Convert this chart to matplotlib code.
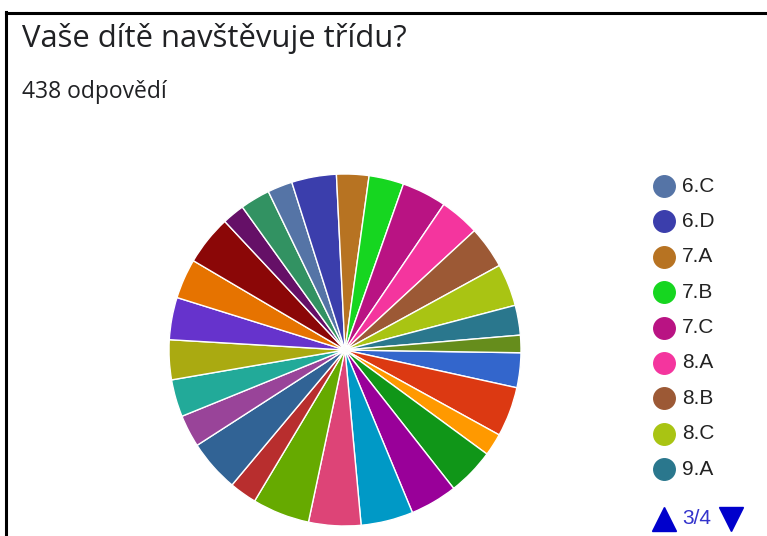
import matplotlib
matplotlib.use('Agg')
import matplotlib.pyplot as plt
from matplotlib.lines import Line2D

# class labels (legend page 3/4 shows items 19-27)
classes = ['1.A', '1.B', '1.C', '2.A', '2.B', '2.C', '3.A', '3.B', '3.C',
           '4.A', '4.B', '4.C', '5.A', '5.B', '5.C', '5.D', '6.A', '6.B',
           '6.C', '6.D', '7.A', '7.B', '7.C', '8.A', '8.B', '8.C', '9.A', '9.B']
counts = [14, 20, 9, 19, 19, 21, 21, 23, 11, 21, 13, 15, 16, 17, 16, 20, 9, 12,
          10, 18, 13, 14, 18, 16, 17, 17, 12, 7]
colors = ['#3366cc', '#dc3912', '#ff9900', '#109618', '#990099', '#0099c6', '#dd4477',
          '#66aa00', '#b82e2e', '#316395', '#994499', '#22aa99', '#aaaa11', '#6633cc',
          '#e67300', '#8b0707', '#651067', '#329262', '#5574a6', '#3b3eac', '#b77322',
          '#16d620', '#b91383', '#f4359e', '#9c5935', '#a9c413', '#2a778d', '#668d1c']
legend_page = (18, 27)
title = 'Vaše dítě navštěvuje třídu?'
subtitle = '438 odpovědí'

W, H = 767, 536
fig = plt.figure(figsize=(W / 100, H / 100), dpi=100)
fig.patch.set_facecolor('white')

# frame lines (top + left)
fig.add_artist(Line2D([5.5 / W, 1], [1 - 13 / H, 1 - 13 / H], color='black', lw=2.2))
fig.add_artist(Line2D([6 / W, 6 / W], [0, 1 - 12 / H], color='black', lw=2.2))

fig.text(22 / W, 1 - 47 / H, title, fontsize=22.3, family='Open Sans', color='#202124',
         va='baseline')
fig.text(22 / W, 1 - 98 / H, subtitle, fontsize=16.5, family='Open Sans', color='#202124',
         va='baseline')

# pie
cx, cy, r = 345, 350, 176
ax = fig.add_axes([(cx - r) / W, 1 - (cy + r) / H, 2 * r / W, 2 * r / H])
ax.pie(counts, colors=colors, startangle=-0.9, counterclock=False, radius=1,
       wedgeprops=dict(edgecolor='white', linewidth=1))
ax.set_xlim(-1, 1)
ax.set_ylim(-1, 1)
ax.axis('off')

# legend (page 3 of 4)
for i, k in enumerate(range(*legend_page)):
    y = 1 - (186 + i * 35.4) / H
    fig.add_artist(Line2D([664 / W], [y], marker='o', markersize=15.5,
                          color=colors[k], lw=0))
    fig.text(682 / W, y, classes[k], fontsize=15, family='Liberation Sans',
             color='#222222', va='center')

yn = 1 - 519 / H
fig.add_artist(Line2D([664 / W], [yn], marker='^', markersize=17, color='#0000cc', lw=0))
fig.add_artist(Line2D([731 / W], [yn], marker='v', markersize=17, color='#0000cc', lw=0))
fig.text(697 / W, yn, '3/4', fontsize=15, family='Liberation Sans', color='#3333cc',
         va='center', ha='center')

fig.savefig('out.png', dpi=100)
